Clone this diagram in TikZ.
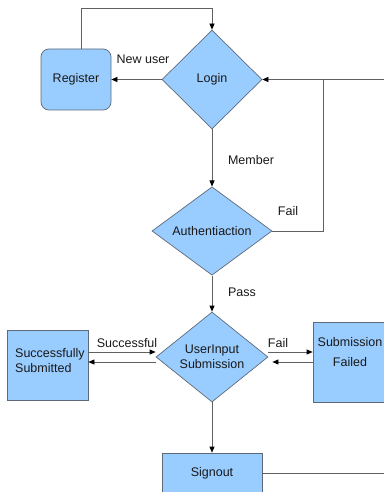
\documentclass[tikz,border=0pt]{standalone}
\usepackage{fontspec}
\setmainfont{Liberation Sans}
\usetikzlibrary{shapes.geometric,arrows.meta}
\definecolor{boxfill}{HTML}{99CCFF}
\definecolor{boxline}{HTML}{5F6A78}
\definecolor{conn}{HTML}{606060}
\begin{document}
\begin{tikzpicture}[x=1pt,y=-1pt,
  every node/.style={font=\fontsize{12.5}{15}\selectfont, text=black!90},
  dia/.style={diamond, draw=boxline, fill=boxfill, inner sep=0pt, line width=0.7pt},
  rbox/.style={rectangle, draw=boxline, fill=boxfill, inner sep=0pt, line width=0.7pt},
  arr/.style={draw=conn, line width=0.7pt, -{Triangle[length=6pt,width=5pt,fill=black,color=black]}},
  ln/.style={draw=conn, line width=0.7pt},
  lbl/.style={inner sep=0pt}]
\useasboundingbox (0,0) rectangle (383,492);
% nodes
\node[dia, minimum width=100, minimum height=99] (login) at (212,79.5) {Login};
\node[rbox, rounded corners=8pt, minimum width=70, minimum height=61] (reg) at (76,79.5) {Register};
\node[dia, minimum width=120, minimum height=80] (auth) at (212,231) {Authentiaction};
\node[dia, minimum width=112, minimum height=90, align=center] (ui) at (212,357) {UserInput\\Submission};
\node[rbox, minimum width=81, minimum height=70] (ss) at (47.5,365) {};
\node[lbl, align=left, anchor=west] (sstext) at (15,360.5) {Successfully\\Submitted};
\node[rbox, minimum width=80, minimum height=80] (sf) at (353,362) {};
\node[lbl, align=center] (sftext) at (350,352) {Submission\\[5pt]Failed};
\node[rbox, minimum width=100, minimum height=40] (so) at (212,473) {Signout};
% coordinates
\coordinate (top) at (212,8);
\coordinate (re) at (390,79.5);
\coordinate (rj) at (323,79.5);
\coordinate (se) at (390,473);
% connectors
\draw[arr] ([xshift=5]reg.north) |- (top) -- (login.north);
\draw[arr] (login.west) -- (reg.east);
\draw[arr] (re) -- (login.east);
\draw[ln] (auth.east) -| (rj);
\draw[arr] (login.south) -- (auth.north);
\draw[arr] (auth.south) -- (ui.north);
\draw[arr] ([yshift=13]ss.east) -- ([yshift=13]ss.east -| ui.west);
\draw[arr] ([yshift=3]ss.east -| ui.west) -- ([yshift=3]ss.east);
\draw[arr] ([yshift=10]sf.west -| ui.east) -- ([yshift=10]sf.west);
\draw[arr] (sf.west) -- ([xshift=4]sf.west -| ui.east);
\draw[arr] (ui.south) -- (so.north);
\draw[ln] (so.east) -- (se);
% labels
\node[lbl] (l1) at (143,59) {New user};
\node[lbl] (l2) at (251,160) {Member};
\node[lbl] (l3) at (288,211) {Fail};
\node[lbl] (l4) at (242,292) {Pass};
\node[lbl] (l5) at (127,343) {Successful};
\node[lbl] (l6) at (278,343) {Fail};
\end{tikzpicture}
\end{document}
